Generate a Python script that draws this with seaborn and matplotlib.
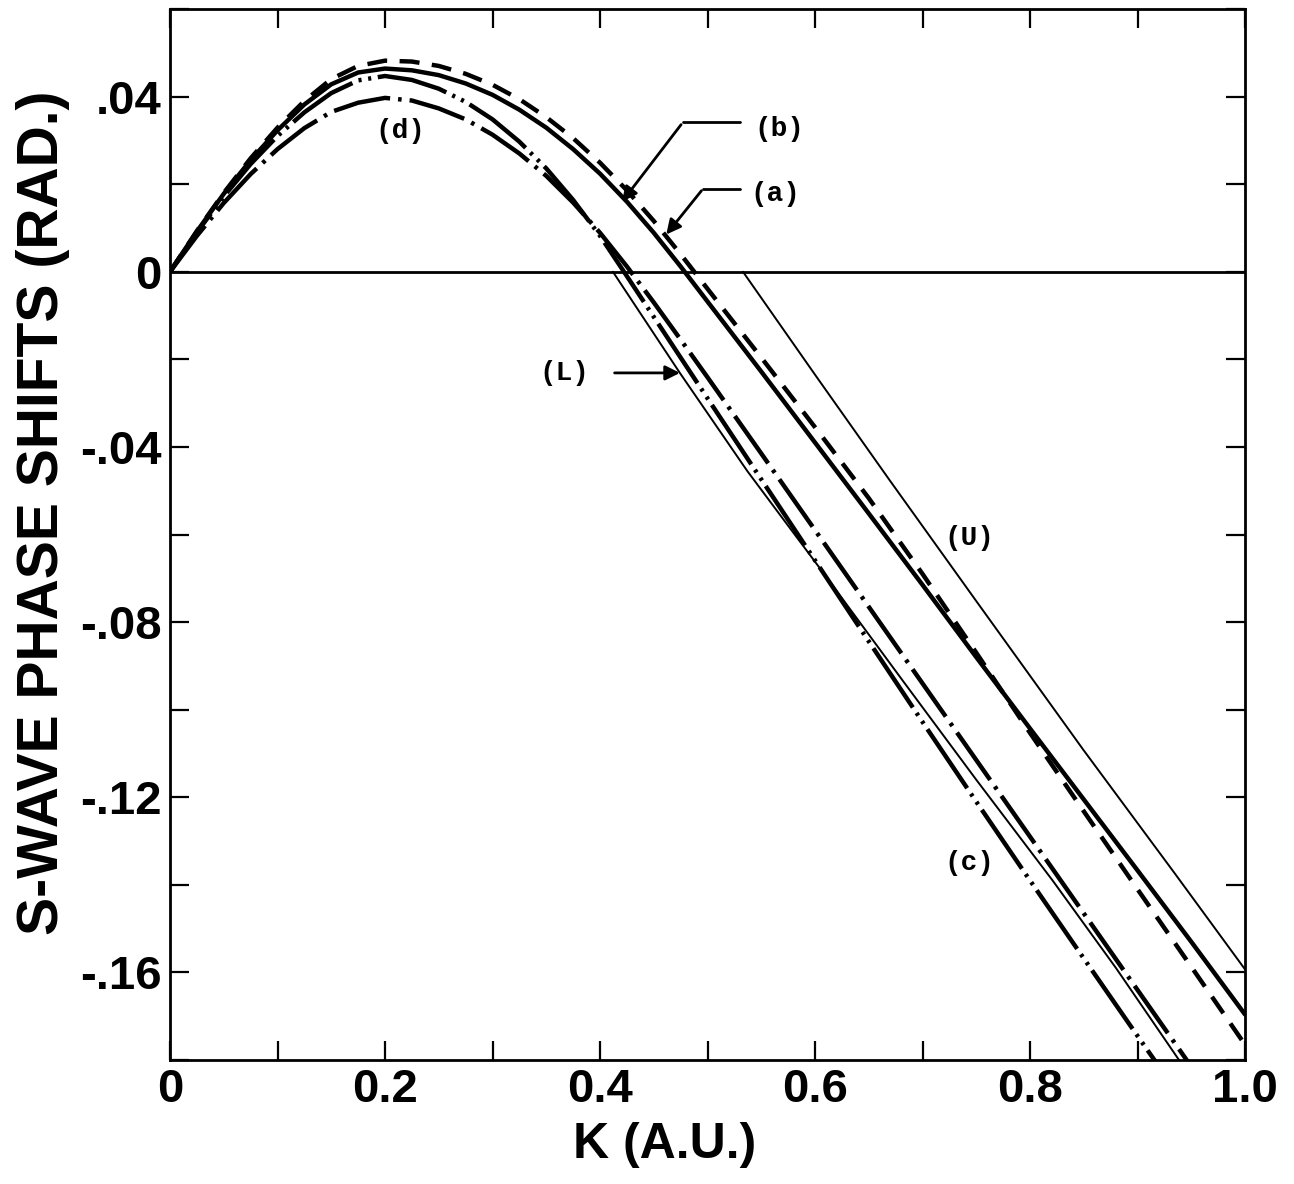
import numpy as np
import pandas as pd
import matplotlib
matplotlib.use("Agg")
import matplotlib.pyplot as plt
import seaborn as sns

# values
k_fine = [0, 0.025, 0.05, 0.075, 0.1, 0.125, 0.15, 0.175, 0.2, 0.225, 0.25, 0.275,
          0.3, 0.325, 0.35, 0.375, 0.4, 0.425, 0.45, 0.475, 0.5, 0.55, 0.6, 0.65,
          0.7, 0.75, 0.8, 0.85, 0.9, 0.95, 1.0]

curve_b = [0, 0.0092, 0.0178, 0.0255, 0.0323, 0.0382, 0.0428, 0.0455, 0.0464, 0.0460,
           0.0449, 0.0430, 0.0404, 0.0370, 0.0329, 0.0280, 0.0224, 0.0160, 0.0089,
           0.0012, -0.0068, -0.0228, -0.0390, -0.0552, -0.0715, -0.0880, -0.1043,
           -0.1205, -0.1367, -0.1530, -0.1696]

curve_a = [0, 0.0093, 0.0180, 0.0259, 0.0329, 0.0390, 0.0440, 0.0470, 0.0482, 0.0480,
           0.0470, 0.0452, 0.0427, 0.0394, 0.0353, 0.0305, 0.0249, 0.0186, 0.0116,
           0.0040, -0.0039, -0.0196, -0.0355, -0.0517, -0.0690, -0.0870, -0.1053,
           -0.1232, -0.1410, -0.1587, -0.1765]

curve_c = [0, 0.0090, 0.0172, 0.0246, 0.0310, 0.0364, 0.0408, 0.0437, 0.0447, 0.0438,
           0.0418, 0.0388, 0.0348, 0.0297, 0.0236, 0.0164, 0.0082, -0.0010, -0.0103,
           -0.0196, -0.0289, -0.0474, -0.0659, -0.0844, -0.1028, -0.1210, -0.1390,
           -0.1568, -0.1745, -0.1920, -0.2095]

curve_d = [0, 0.0082, 0.0157, 0.0223, 0.0280, 0.0328, 0.0365, 0.0386, 0.0397, 0.0391,
           0.0373, 0.0348, 0.0313, 0.0270, 0.0219, 0.0158, 0.0089, 0.0012, -0.0070,
           -0.0155, -0.0241, -0.0415, -0.0590, -0.0765, -0.0940, -0.1115, -0.1290,
           -0.1465, -0.1640, -0.1815, -0.1990]

k_upper = [0.533, 0.6, 0.67, 0.75, 0.85, 0.935, 1.0]
curve_u = [0, -0.0235, -0.0478, -0.0752, -0.1093, -0.1375, -0.1593]

k_lower = [0.412, 0.474, 0.537, 0.61, 0.682, 0.75, 0.821, 0.88, 0.94]
curve_l = [0, -0.023, -0.0455, -0.0695, -0.0935, -0.116, -0.139, -0.159, -0.1805]

x_ticks = [0, 0.2, 0.4, 0.6, 0.8, 1.0]
x_labels = ["0", "0.2", "0.4", "0.6", "0.8", "1.0"]
y_ticks = [-0.16, -0.12, -0.08, -0.04, 0, 0.04]
y_labels = ["-.16", "-.12", "-.08", "-.04", "0", ".04"]

sns.set_style("ticks")
plt.rcParams["font.family"] = ["Liberation Sans", "DejaVu Sans"]
plt.rcParams["text.color"] = "black"
plt.rcParams["axes.labelcolor"] = "black"
plt.rcParams["xtick.color"] = "black"
plt.rcParams["ytick.color"] = "black"

fig = plt.figure(figsize=(12.94, 11.84), dpi=100)
ax = fig.add_axes([170 / 1294, 1 - 1060 / 1184, 1075 / 1294, 1051 / 1184])

thick = 3.2
thin = 1.4
styles = [
    (k_fine, curve_b, thick, "-"),
    (k_fine, curve_a, thick, (0, (4.5, 2.8))),
    (k_fine, curve_c, thick, (0, (16, 1.5, 0.7, 1.5, 0.7, 1.5))),
    (k_fine, curve_d, thick, (0, (13, 1.8, 0.8, 1.8))),
    (k_upper, curve_u, thin, "-"),
    (k_lower, curve_l, thin, "-"),
]
for xs, ys, lw, ls in styles:
    sns.lineplot(x=xs, y=ys, ax=ax, color="black", lw=lw, linestyle=ls,
                 sort=False, estimator=None)

ax.axhline(0, color="black", lw=2)

ax.set_xlim(0, 1.0)
ax.set_ylim(-0.18, 0.06)
ax.set_xticks(x_ticks)
ax.set_xticklabels(x_labels)
ax.set_xticks(np.arange(0.1, 1.0, 0.2), minor=True)
ax.set_yticks(y_ticks)
ax.set_yticklabels(y_labels)
ax.set_yticks(np.arange(-0.18, 0.061, 0.04), minor=True)

ax.tick_params(which="both", direction="in", length=14, width=1.6,
               top=True, right=True, color="black")
ax.tick_params(axis="both", which="major", labelsize=34, pad=6)
for lab in ax.get_xticklabels() + ax.get_yticklabels():
    lab.set_fontweight("bold")
for sp in ax.spines.values():
    sp.set_linewidth(2)
    sp.set_color("black")

ax.set_xlabel("K (A.U.)", fontsize=36, fontweight="bold")
ax.set_ylabel("S-WAVE PHASE SHIFTS (RAD.)", fontsize=41, fontweight="bold")
ax.xaxis.set_label_coords(0.46, -0.059)
ax.yaxis.set_label_coords(-0.093, 0.521)

mono = dict(family=["Liberation Mono", "DejaVu Sans Mono"], fontsize=20,
            fontweight="bold", ha="center", va="center")
ax.text(0.214, 0.0322, "(d)", **mono)
ax.text(0.567, 0.0327, "(b)", **mono)
ax.text(0.563, 0.0178, "(a)", **mono)
ax.text(0.367, -0.0231, "(L)", **mono)
ax.text(0.744, -0.0608, "(U)", **mono)
ax.text(0.744, -0.1351, "(c)", **mono)

arrow = dict(arrowstyle="-|>", color="black", lw=2, mutation_scale=22)
ax.plot([0.530, 0.477], [0.0341, 0.0341], color="black", lw=2)
ax.annotate("", xy=(0.419, 0.0155), xytext=(0.477, 0.0341), arrowprops=arrow)
ax.plot([0.530, 0.496], [0.0190, 0.0190], color="black", lw=2)
ax.annotate("", xy=(0.460, 0.0080), xytext=(0.496, 0.0190), arrowprops=arrow)
ax.annotate("", xy=(0.477, -0.0231), xytext=(0.411, -0.0231), arrowprops=arrow)

fig.savefig("out.png", dpi=100)
